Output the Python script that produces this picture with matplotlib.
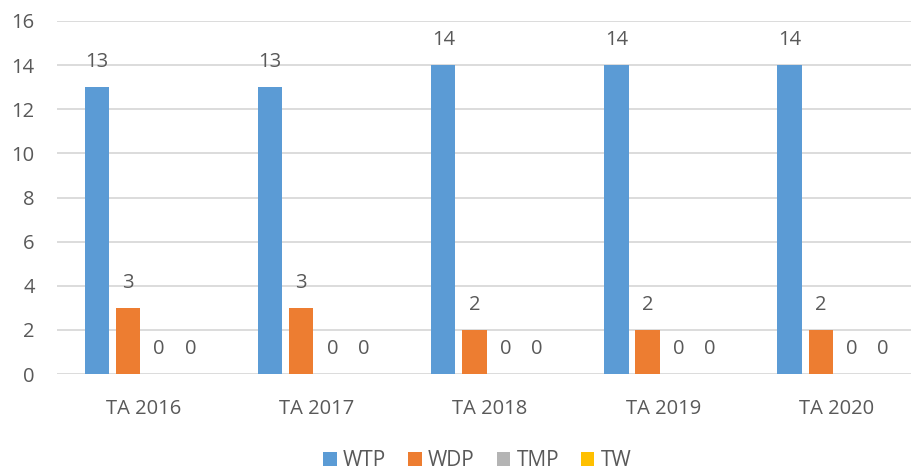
import numpy as np
import matplotlib
matplotlib.use('Agg')
import matplotlib.pyplot as plt

categories = ['TA 2016', 'TA 2017', 'TA 2018', 'TA 2019', 'TA 2020']
wtp = [13, 13, 14, 14, 14]
wdp = [3, 3, 2, 2, 2]
tmp = [0, 0, 0, 0, 0]
tw = [0, 0, 0, 0, 0]
series_names = ['WTP', 'WDP', 'TMP', 'TW']

colors = ['#5B9BD5', '#ED7D31', '#B4B4B4', '#FFC000']
text_color = '#595959'
grid_color = '#D9D9D9'

plt.rcParams['font.family'] = ['Open Sans', 'DejaVu Sans']

fig = plt.figure(figsize=(9.11, 4.70), dpi=100)
# axes run a bit past the right edge, like the cropped original
ax = fig.add_axes([57 / 911, 96 / 470, 866 / 911, 353 / 470])

x = np.arange(len(categories))
width = 0.141
offsets = [-0.27, -0.09, 0.09, 0.27]
for vals, name, col, off in zip([wtp, wdp, tmp, tw], series_names, colors, offsets):
    bars = ax.bar(x + off, vals, width, color=col, label=name, zorder=3)
    for b, v in zip(bars, vals):
        ax.annotate(str(v), (b.get_x() + b.get_width() / 2, v),
                    xytext=(0, 18), textcoords='offset points',
                    ha='center', va='center', fontsize=14.5, color=text_color)

ax.set_xlim(-0.5, 4.5)
ax.set_ylim(0, 16)
ax.set_yticks(range(0, 17, 2))
ax.set_xticks(x)
ax.set_xticklabels(categories)
ax.grid(axis='y', color=grid_color, linewidth=1.3, zorder=0)
for s in ax.spines.values():
    s.set_visible(False)
ax.tick_params(axis='both', length=0, labelsize=14.5, labelcolor=text_color)
ax.tick_params(axis='x', pad=18)
ax.tick_params(axis='y', pad=16)

fig.legend(loc='center', bbox_to_anchor=(0.524, 0.02), ncol=4, frameon=False,
           fontsize=15, labelcolor=text_color, handlelength=0.65, handleheight=0.65,
           handletextpad=0.3, columnspacing=1.05, borderaxespad=0)

fig.savefig('out.png', dpi=100)
